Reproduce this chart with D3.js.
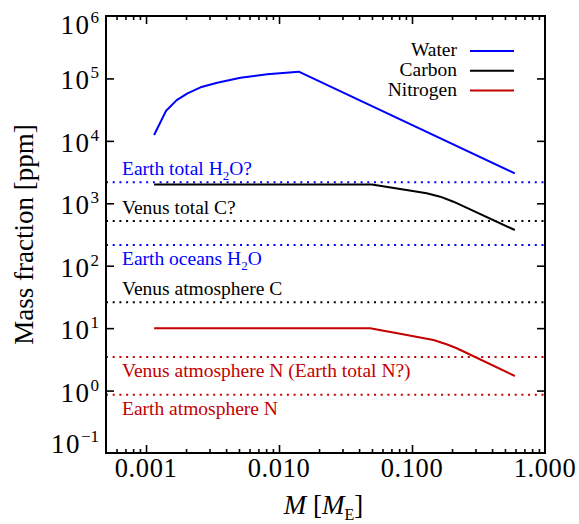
<!DOCTYPE html>
<html>
<head>
<meta charset="utf-8">
<script src="https://cdn.jsdelivr.net/npm/d3@7/dist/d3.min.js"></script>
<style>
  html, body { margin: 0; padding: 0; background: #fff; }
  svg { display: block; }
  text { font-family: "Liberation Serif", "DejaVu Serif", serif; }
</style>
</head>
<body>
<svg id="chart" width="579" height="524"></svg>
<script>
// Planet mass (Earth masses) and volatile mass fractions (ppm)
const waterMass = [0.00115, 0.00141, 0.00170, 0.00205, 0.00257, 0.00343, 0.00513, 0.00814, 0.01407, 0.593];
const waterPpm  = [12400, 30000, 45000, 57800, 72100, 85500, 102700, 116500, 128200, 3020];

const carbonMass = [0.00115, 0.0499, 0.0815, 0.129, 0.163, 0.205, 0.593];
const carbonPpm  = [2000, 2000, 1694, 1445, 1276, 1060, 373];

const nitrogenMass = [0.00115, 0.0484, 0.0914, 0.145, 0.182, 0.217, 0.593];
const nitrogenPpm  = [10, 10, 7.76, 6.46, 5.51, 4.76, 1.71];

// Reference inventories (ppm); "_x" marks a subscript character
const refNames = [
  "Earth total H_2O?",
  "Venus total C?",
  "Earth oceans H_2O",
  "Venus atmosphere C",
  "Venus atmosphere N (Earth total N?)",
  "Earth atmosphere N"
];
const refValues  = [2170, 520, 215, 26, 3.45, 0.86];
const refSpecies = ["water", "carbon", "water", "carbon", "nitrogen", "nitrogen"];

// Axis ticks
const massTicks      = [0.001, 0.01, 0.1, 1];
const massTickLabels = ["0.001", "0.010", "0.100", "1.000"];
const fracExponents  = [-1, 0, 1, 2, 3, 4, 5, 6];

const seriesNames = ["Water", "Carbon", "Nitrogen"];

// ---- styling / layout ----
const colors = { water: "#0000ff", carbon: "#000000", nitrogen: "#c40000" };
const labelSide = ["above", "above", "below", "above", "below", "below"];

const W = 579, H = 524;
const m = { left: 106, right: 545, top: 16, bottom: 453 };

const svg = d3.select("#chart");
svg.append("rect").attr("width", W).attr("height", H).attr("fill", "#fff");

const x = d3.scaleLog().domain([0.0005, 1]).range([m.left, m.right]);
const y = d3.scaleLog().domain([0.1, 1e6]).range([m.bottom, m.top]);

// Minor x ticks: 2..9 x each decade inside the domain
const minorX = [];
[1e-4, 1e-3, 1e-2, 1e-1].forEach(d => {
  for (let k = 2; k <= 9; k++) {
    const v = d * k;
    if (v > 0.0005 * 1.001 && v < 1) minorX.push(v);
  }
});
const majorY = fracExponents.map(e => Math.pow(10, e));

function styleAxis(g) {
  g.select(".domain").remove();
  g.selectAll(".tick line").attr("stroke", "#000").attr("stroke-width", 1.6);
}

const axes = svg.append("g");
axes.append("g").attr("transform", `translate(0,${m.bottom})`)
  .call(d3.axisBottom(x).tickValues(massTicks.slice(0, 3)).tickSize(-8).tickFormat(""))
  .call(styleAxis);
axes.append("g").attr("transform", `translate(0,${m.bottom})`)
  .call(d3.axisBottom(x).tickValues(minorX).tickSize(-4).tickFormat(""))
  .call(styleAxis);
axes.append("g").attr("transform", `translate(0,${m.top})`)
  .call(d3.axisTop(x).tickValues(massTicks.slice(0, 3)).tickSize(-8).tickFormat(""))
  .call(styleAxis);
axes.append("g").attr("transform", `translate(0,${m.top})`)
  .call(d3.axisTop(x).tickValues(minorX).tickSize(-4).tickFormat(""))
  .call(styleAxis);
axes.append("g").attr("transform", `translate(${m.left},0)`)
  .call(d3.axisLeft(y).tickValues(majorY.slice(1, -1)).tickSize(-8).tickFormat(""))
  .call(styleAxis);
axes.append("g").attr("transform", `translate(${m.right},0)`)
  .call(d3.axisRight(y).tickValues(majorY.slice(1, -1)).tickSize(-8).tickFormat(""))
  .call(styleAxis);

// Reference lines (dotted) and their labels
const refs = refValues.map((v, i) => ({ v, name: refNames[i], sp: refSpecies[i], side: labelSide[i] }));

svg.append("g").selectAll("line").data(refs).join("line")
  .attr("x1", m.left).attr("x2", m.right)
  .attr("y1", d => y(d.v)).attr("y2", d => y(d.v))
  .attr("stroke", d => colors[d.sp])
  .attr("stroke-width", 2)
  .attr("stroke-dasharray", "2,4.7");

const refText = svg.append("g").selectAll("text").data(refs).join("text")
  .attr("x", 122)
  .attr("y", d => y(d.v) + (d.side === "above" ? -7.5 : 20.5))
  .attr("fill", d => colors[d.sp])
  .attr("font-size", 19.5);

refText.each(function(d) {
  const t = d3.select(this);
  const parts = d.name.split(/_(.)/);
  parts.forEach((p, k) => {
    if (!p) return;
    if (k % 2 === 1) {
      t.append("tspan").attr("font-size", 13).attr("dy", 5).text(p);
    } else {
      const ts = t.append("tspan").text(p);
      if (k > 0) ts.attr("dy", -5);
    }
  });
});

// Model curves
const line = d3.line().x(d => x(d[0])).y(d => y(d[1]));
const curves = [
  { sp: "water",    pts: d3.zip(waterMass, waterPpm) },
  { sp: "carbon",   pts: d3.zip(carbonMass, carbonPpm) },
  { sp: "nitrogen", pts: d3.zip(nitrogenMass, nitrogenPpm) }
];
svg.append("g").selectAll("path").data(curves).join("path")
  .attr("d", d => line(d.pts))
  .attr("fill", "none")
  .attr("stroke", d => colors[d.sp])
  .attr("stroke-width", 2)
  .attr("stroke-linejoin", "round");

// Legend
const leg = svg.append("g");
seriesNames.forEach((name, i) => {
  const by = 56 + i * 19.8;
  leg.append("text").attr("x", 457).attr("y", by)
    .attr("text-anchor", "end").attr("font-size", 19.5).attr("fill", "#000").text(name);
  leg.append("line").attr("x1", 470).attr("x2", 514)
    .attr("y1", by - 5).attr("y2", by - 5)
    .attr("stroke", colors[curves[i].sp]).attr("stroke-width", 2);
});

// Frame
svg.append("rect")
  .attr("x", m.left).attr("y", m.top)
  .attr("width", m.right - m.left).attr("height", m.bottom - m.top)
  .attr("fill", "none").attr("stroke", "#000").attr("stroke-width", 2);

// X tick labels
svg.append("g").selectAll("text").data(massTicks).join("text")
  .attr("x", d => x(d)).attr("y", 477)
  .attr("text-anchor", "middle").attr("font-size", 26.5)
  .attr("letter-spacing", 0.6)
  .text((d, i) => massTickLabels[i]);

// Y tick labels (powers of ten), kept inside the frame's vertical extent
const yl = svg.append("g").selectAll("text").data(fracExponents).join("text")
  .attr("x", 99)
  .attr("y", e => Math.max(34, Math.min(m.bottom, y(Math.pow(10, e)) + 11)))
  .attr("text-anchor", "end").attr("font-size", 27)
  .attr("letter-spacing", 1.5);
yl.append("tspan").text("10");
yl.append("tspan").attr("font-size", 17).attr("dy", -11).attr("letter-spacing", 0)
  .text(e => e < 0 ? "\u2212" + Math.abs(e) : String(e));

// Axis titles
svg.append("text")
  .attr("transform", `translate(33,${(m.top + m.bottom) / 2}) rotate(-90)`)
  .attr("text-anchor", "middle").attr("font-size", 27)
  .text("Mass fraction [ppm]");

const xt = svg.append("text")
  .attr("x", (m.left + m.right) / 2 - 2).attr("y", 514)
  .attr("text-anchor", "middle").attr("font-size", 27);
xt.append("tspan").attr("font-style", "italic").text("M");
xt.append("tspan").text(" [");
xt.append("tspan").attr("font-style", "italic").text("M");
xt.append("tspan").attr("font-size", 16).attr("dy", 6).text("E");
xt.append("tspan").attr("dy", -6).text("]");
</script>
</body>
</html>
